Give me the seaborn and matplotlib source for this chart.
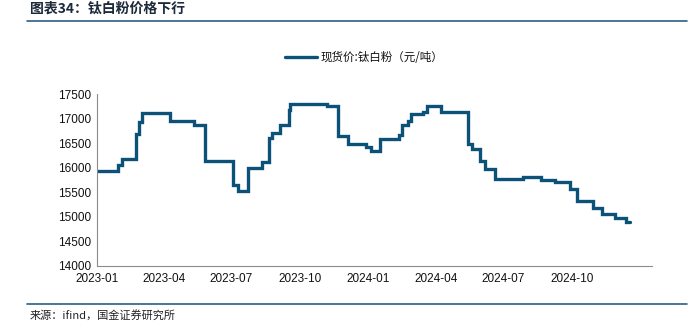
import matplotlib
matplotlib.use("Agg")
import matplotlib.pyplot as plt
import seaborn as sns
import pandas as pd

# Step change dates and price levels (元/吨)
change_dates = [
    "2023-01-01", "2023-01-29", "2023-02-03", "2023-02-23", "2023-02-26", "2023-03-02",
    "2023-04-09", "2023-05-12", "2023-05-26", "2023-07-03", "2023-07-10", "2023-07-23",
    "2023-08-11", "2023-08-21", "2023-08-24", "2023-09-04", "2023-09-16", "2023-09-18",
    "2023-11-07", "2023-11-21", "2023-12-05", "2023-12-29", "2024-01-05", "2024-01-17",
    "2024-02-12", "2024-02-15", "2024-02-24", "2024-02-28", "2024-03-15", "2024-03-20",
    "2024-04-08", "2024-05-15", "2024-05-20", "2024-05-30", "2024-06-06", "2024-06-20",
    "2024-07-27", "2024-08-21", "2024-09-09", "2024-09-28", "2024-10-08", "2024-10-29",
    "2024-11-11", "2024-11-28", "2024-12-13", "2024-12-19",
]
prices = [
    15930, 16050, 16180, 16680, 16940, 17120,
    16950, 16880, 16130, 15650, 15520, 16000,
    16120, 16600, 16700, 16880, 17180, 17300,
    17270, 16650, 16480, 16430, 16350, 16580,
    16670, 16880, 16960, 17090, 17140, 17270,
    17140, 16480, 16380, 16130, 15970, 15780,
    15810, 15750, 15700, 15570, 15320, 15180,
    15060, 14970, 14900, 14900,
]
series_name = "现货价:钛白粉（元/吨）"
y_ticks = [14000, 14500, 15000, 15500, 16000, 16500, 17000, 17500]
x_tick_dates = ["2023-01-01", "2023-04-01", "2023-07-01", "2023-10-01",
                "2024-01-01", "2024-04-01", "2024-07-01", "2024-10-01", "2025-01-01"]
x_tick_labels = ["2023-01", "2023-04", "2023-07", "2023-10", "2024-01",
                 "2024-04", "2024-07", "2024-10", ""]

df = pd.DataFrame({"date": pd.to_datetime(change_dates), "price": prices})

sns.set_style("white")
plt.rcParams["font.family"] = ["Liberation Sans", "Noto Sans CJK SC", "DejaVu Sans"]

fig = plt.figure(figsize=(6.95, 3.28), dpi=100)
ax = fig.add_axes([0.1396, 0.19, 0.7985, 0.5225])

color = "#0c5178"
sns.lineplot(data=df, x="date", y="price", ax=ax, color=color, linewidth=2.4,
             drawstyle="steps-post", label=series_name, solid_joinstyle="miter")

ax.set_xlim(pd.Timestamp("2023-01-01"), pd.Timestamp("2025-01-17"))
ax.set_ylim(14000, 17500)
ax.set_yticks(y_ticks)
ax.set_yticklabels([str(v) for v in y_ticks])
ax.set_xticks([pd.Timestamp(d) for d in x_tick_dates])
ax.set_xticklabels(x_tick_labels)
ax.set_xlabel("")
ax.set_ylabel("")

for s in ["top", "right"]:
    ax.spines[s].set_visible(False)
for s in ["left", "bottom"]:
    ax.spines[s].set_color("#8c8c8c")
    ax.spines[s].set_linewidth(0.8)
ax.tick_params(axis="both", direction="in", length=2.5, width=0.8, color="#8c8c8c",
               labelsize=8.5, labelcolor="#111111", pad=4)
ax.tick_params(axis="x", pad=5)

leg = ax.legend(loc="center left", bbox_to_anchor=(0.338, 1.213), frameon=False,
                fontsize=8.3, handlelength=2.8, handletextpad=0.35,
                borderaxespad=0, borderpad=0)
for t in leg.get_texts():
    t.set_family(["Noto Sans CJK SC", "DejaVu Sans"])
    t.set_color("#111111")

# Title and separators
fig.text(0.043, 1 - 1.5 / 328, "图表34：钛白粉价格下行", family=["Noto Sans CJK SC"],
         fontsize=10, fontweight="bold", style="italic", color="#1c2a3a",
         ha="left", va="top")
fig.add_artist(plt.Line2D([0.039, 0.988], [1 - 20.7 / 328] * 2, color="#2f5f82", lw=1.2))
fig.add_artist(plt.Line2D([0.039, 0.988], [1 - 304 / 328] * 2, color="#2f5f82", lw=1.2))
fig.text(0.043, 1 - 315 / 328, "来源：ifind，国金证券研究所", family=["Noto Sans CJK SC"],
         fontsize=8, color="#222222", ha="left", va="center")

fig.savefig("out.png", dpi=100)
